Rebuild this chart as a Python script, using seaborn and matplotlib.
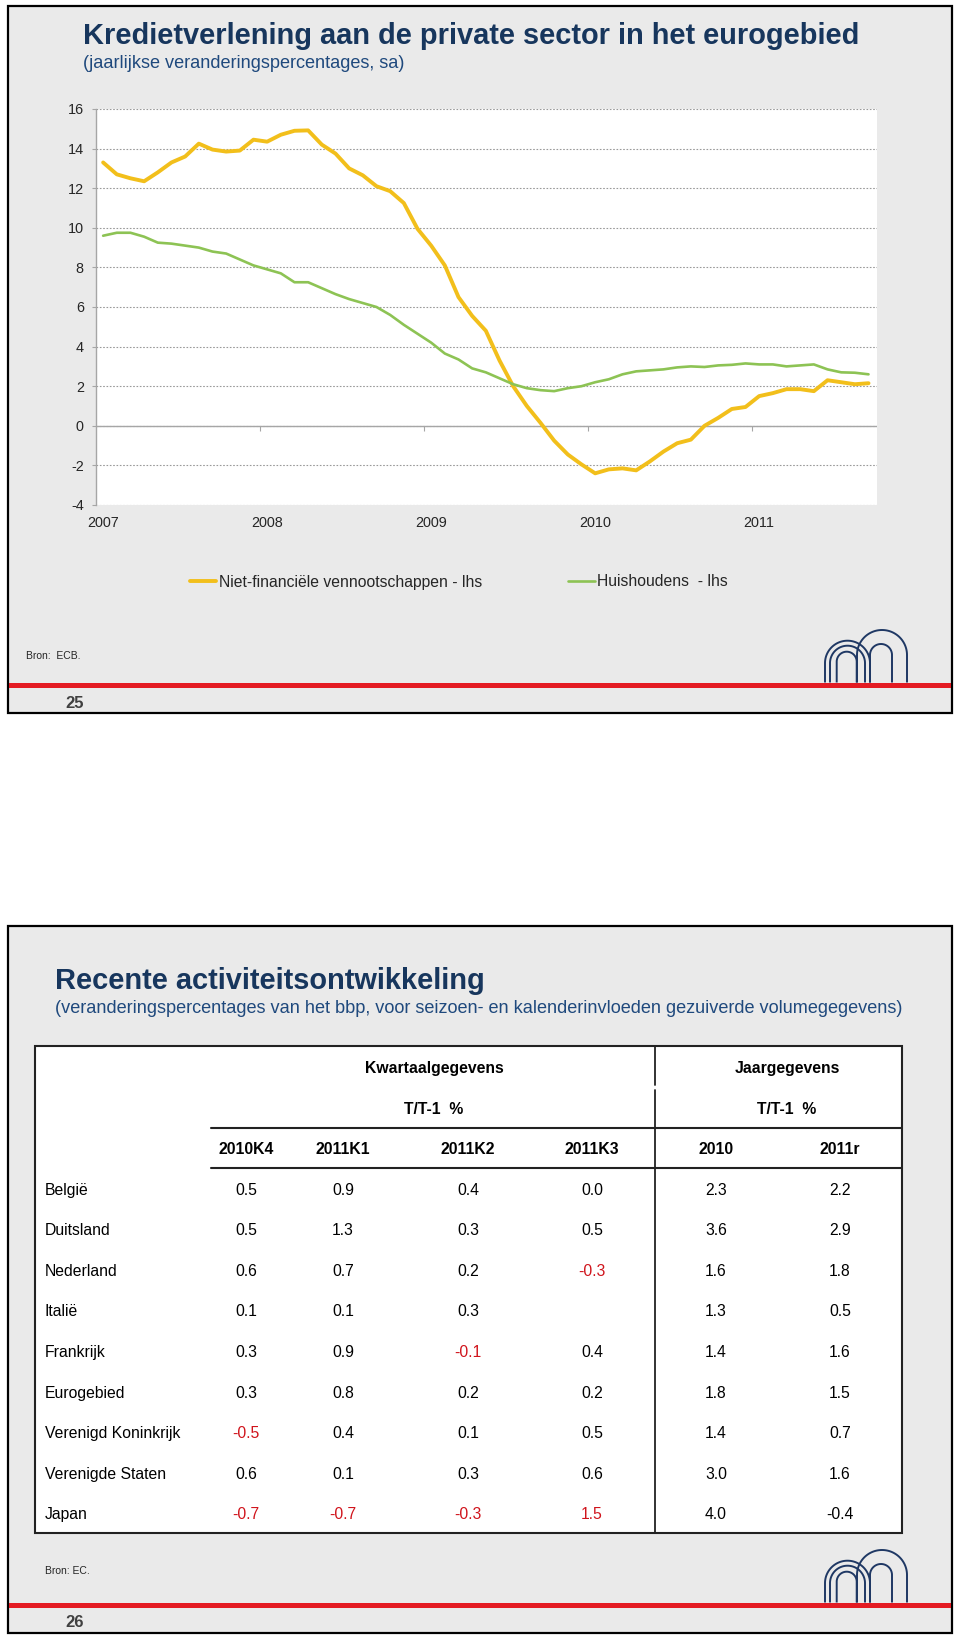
import numpy as np
import pandas as pd
import matplotlib
matplotlib.use("Agg")
import matplotlib.pyplot as plt
import seaborn as sns
from matplotlib.patches import Rectangle

# ---------------- data: slide 25 (line chart) ----------------
months = pd.period_range("2007-01", "2011-09", freq="M")
nfc_growth = [13.3, 12.7, 12.5, 12.35, 12.8, 13.3, 13.6, 14.25, 13.95, 13.85, 13.9, 14.45,
              14.35, 14.7, 14.9, 14.92, 14.2, 13.75, 13.0, 12.65, 12.1, 11.85, 11.25, 9.95,
              9.1, 8.1, 6.5, 5.55, 4.8, 3.3, 2.0, 1.0, 0.15, -0.75, -1.45, -1.95,
              -2.4, -2.2, -2.15, -2.25, -1.8, -1.3, -0.88, -0.7, 0.0, 0.4, 0.85, 0.95,
              1.5, 1.65, 1.85, 1.85, 1.75, 2.3, 2.2, 2.1, 2.15]
household_growth = [9.6, 9.75, 9.75, 9.55, 9.25, 9.2, 9.1, 9.0, 8.8, 8.7, 8.4, 8.1,
                    7.9, 7.7, 7.25, 7.25, 6.95, 6.65, 6.4, 6.2, 6.0, 5.6, 5.1, 4.65,
                    4.2, 3.65, 3.35, 2.9, 2.7, 2.4, 2.1, 1.9, 1.8, 1.75, 1.9, 2.0,
                    2.2, 2.35, 2.6, 2.75, 2.8, 2.85, 2.95, 3.0, 2.97, 3.05, 3.08, 3.15,
                    3.1, 3.1, 3.0, 3.05, 3.1, 2.85, 2.7, 2.68, 2.6]
series_labels = ["Niet-financiële vennootschappen - lhs", "Huishoudens  - lhs"]
series_colors = ["#F2BF1B", "#8DC354"]
year_labels = ["2007", "2008", "2009", "2010", "2011"]
y_ticks = [-4, -2, 0, 2, 4, 6, 8, 10, 12, 14, 16]

chart_title = "Kredietverlening aan de private sector in het eurogebied"
chart_subtitle = "(jaarlijkse veranderingspercentages, sa)"
chart_source = "Bron:  ECB."

# ---------------- data: slide 26 (table) ----------------
table_title = "Recente activiteitsontwikkeling"
table_subtitle = ("(veranderingspercentages van het bbp, voor seizoen- en kalenderinvloeden "
                  "gezuiverde volumegegevens)")
table_source = "Bron: EC."
group_headers = ["Kwartaalgegevens", "Jaargegevens"]
unit_header = "T/T-1  %"
column_headers = ["2010K4", "2011K1", "2011K2", "2011K3", "2010", "2011r"]
countries = ["België", "Duitsland", "Nederland", "Italië", "Frankrijk", "Eurogebied",
             "Verenigd Koninkrijk", "Verenigde Staten", "Japan"]
col_2010K4 = ["0.5", "0.5", "0.6", "0.1", "0.3", "0.3", "-0.5", "0.6", "-0.7"]
col_2011K1 = ["0.9", "1.3", "0.7", "0.1", "0.9", "0.8", "0.4", "0.1", "-0.7"]
col_2011K2 = ["0.4", "0.3", "0.2", "0.3", "-0.1", "0.2", "0.1", "0.3", "-0.3"]
col_2011K3 = ["0.0", "0.5", "-0.3", "", "0.4", "0.2", "0.5", "0.6", "1.5"]
col_2010 = ["2.3", "3.6", "1.6", "1.3", "1.4", "1.8", "1.4", "3.0", "4.0"]
col_2011r = ["2.2", "2.9", "1.8", "0.5", "1.6", "1.5", "0.7", "1.6", "-0.4"]
red_cells = [(2, 3), (4, 2), (6, 0), (8, 0), (8, 1), (8, 2), (8, 3)]

# ---------------- style ----------------
W, H = 960, 1635
sns.set_theme(style="white")
plt.rcParams["font.family"] = ["Liberation Sans", "DejaVu Sans"]

SLIDE_GRAY = "#EAEAEA"
NAVY = "#17365D"
SUBBLUE = "#1F497D"
TXT = "#262626"
AXGRAY = "#A6A6A6"
RED = "#D0141C"
LOGO = "#1F3864"
TITLE_FS = 20.9
SUB_FS = 13.1
TBL_FS = 11.3

fig = plt.figure(figsize=(W / 100, H / 100), dpi=100)
fig.patch.set_facecolor("white")

bg = fig.add_axes([0, 0, 1, 1], zorder=-10)
bg.set_xlim(0, W)
bg.set_ylim(H, 0)
bg.axis("off")


def arch(cx, r, top, bottom, fill=False):
    cy = top + r
    t = np.linspace(np.pi, 0, 80)
    xs = np.concatenate([[cx - r], cx + r * np.cos(t), [cx + r]])
    ys = np.concatenate([[bottom], cy - r * np.sin(t), [bottom]])
    if fill:
        bg.fill(xs, ys, color=SLIDE_GRAY, lw=0)
    bg.plot(xs, ys, color=LOGO, lw=1.4, solid_capstyle="butt")


def slide(top):
    bg.add_patch(Rectangle((7.5, top), 944, 707.5, facecolor=SLIDE_GRAY,
                           edgecolor="black", lw=1.6))
    b = top + 677
    # logo (stylised arches)
    arch(882, 25, top + 624.5, b, fill=True)
    arch(881, 11, top + 638.5, b)
    arch(847.5, 22.5, top + 635.2, b, fill=True)
    arch(847.5, 17.5, top + 640.2, b)
    arch(846.7, 10, top + 646.2, b)
    bg.add_patch(Rectangle((8.5, top + 677), 942, 5.5, facecolor="#E41B23",
                           edgecolor="none", zorder=5))


slide(5.5)
slide(925.5)

# ---------------- slide 25 texts ----------------
bg.text(83, 44, chart_title, fontsize=TITLE_FS, fontweight="bold", color=NAVY, va="baseline")
bg.text(83, 68, chart_subtitle, fontsize=SUB_FS, color=SUBBLUE, va="baseline")
bg.text(26.5, 656, chart_source, fontsize=7.5, color=TXT, va="center")
bg.text(75, 703, "25", fontsize=12, fontweight="bold", color="#404040", ha="center", va="center")

# ---------------- line chart ----------------
ax = fig.add_axes([96.3 / W, 1 - 505 / H, 780.7 / W, 396 / H])
ax.set_facecolor("white")
xpos = [(m.year - 2007) + 2007 + (m.month - 0.5) / 12 for m in months]
df = pd.DataFrame({
    "x": xpos + xpos,
    "waarde": nfc_growth + household_growth,
    "reeks": [series_labels[0]] * len(xpos) + [series_labels[1]] * len(xpos),
})
sns.lineplot(data=df, x="x", y="waarde", hue="reeks", size="reeks",
             palette=dict(zip(series_labels, series_colors)),
             sizes={series_labels[0]: 2.8, series_labels[1]: 1.9},
             estimator=None, legend=False, ax=ax)
handles = list(ax.get_lines()[:2])

ax.set_xlim(2007, 2007 + 57.12 / 12)
ax.set_ylim(-4, 16)
ax.set_yticks(y_ticks)
ax.set_yticklabels([str(v) for v in y_ticks])
ax.set_xticks([int(y) + 0.5 / 12 for y in year_labels])
ax.set_xticklabels(year_labels)
ax.set_xlabel("")
ax.set_ylabel("")
ax.tick_params(axis="x", length=0, pad=8, labelsize=10.4, labelcolor=TXT)
ax.tick_params(axis="y", left=True, length=3, width=0.8, color=AXGRAY, direction="out",
               pad=6, labelsize=10.4, labelcolor=TXT)
for s in ["top", "right", "bottom"]:
    ax.spines[s].set_visible(False)
ax.spines["left"].set_color(AXGRAY)
ax.spines["left"].set_linewidth(1.0)
ax.grid(axis="y", color="#9A9A9A", lw=0.8, ls=(0, (1.5, 1.5)))
ax.grid(axis="x", visible=False)
ax.set_axisbelow(True)
ax.axhline(0, color=AXGRAY, lw=1.0, zorder=1)

sec = ax.secondary_xaxis(0.2)
sec.set_xticks([2008, 2009, 2010, 2011])
sec.set_xticklabels([])
sec.tick_params(axis="x", direction="out", length=3.5, width=0.8, color=AXGRAY)
for s in sec.spines.values():
    s.set_visible(False)

fig.legend(handles, series_labels, loc="center left",
           bbox_to_anchor=(189.5 / W, 1 - 582 / H), bbox_transform=fig.transFigure,
           ncol=2, frameon=False, fontsize=11.3, handlelength=1.7, handletextpad=0.15,
           columnspacing=5.5, borderpad=0, borderaxespad=0, labelcolor=TXT)

# ---------------- slide 26: table ----------------
bg.text(55, 989, table_title, fontsize=TITLE_FS, fontweight="bold", color=NAVY, va="baseline")
bg.text(55, 1013, table_subtitle, fontsize=SUB_FS, color=SUBBLUE, va="baseline")
bg.text(45, 1570.7, table_source, fontsize=7.5, color=TXT, va="center")
bg.text(75, 1622.7, "26", fontsize=12, fontweight="bold", color="#404040", ha="center", va="center")

tbl_left, tbl_right, tbl_top, tbl_bottom = 35, 902, 1046, 1533.3
bg.add_patch(Rectangle((tbl_left, tbl_top), tbl_right - tbl_left, tbl_bottom - tbl_top,
                       facecolor="white", edgecolor="#222222", lw=1.5))
divider_x = 654.5
bg.plot([divider_x, divider_x], [tbl_top, 1085], color="#222222", lw=1.3)
bg.plot([divider_x, divider_x], [1090, tbl_bottom], color="#222222", lw=1.3)
bg.plot([211, tbl_right], [1128.3, 1128.3], color="#222222", lw=1.5)
bg.plot([211, tbl_right], [1168.3, 1168.3], color="#222222", lw=1.5)

group_x = [434, 787]
for gx, gh in zip(group_x, group_headers):
    bg.text(gx, 1068, gh, fontsize=TBL_FS, fontweight="bold", color="black", ha="center", va="center")
    bg.text(gx, 1109, unit_header, fontsize=TBL_FS, fontweight="bold", color="black", ha="center", va="center")

col_x = [246, 343, 468, 592, 716, 840]
for cx, ch in zip(col_x, column_headers):
    bg.text(cx, 1149.3, ch, fontsize=TBL_FS, fontweight="bold", color="black", ha="center", va="center")

columns = [col_2010K4, col_2011K1, col_2011K2, col_2011K3, col_2010, col_2011r]
row_y0, row_dy = 1190, 40.6
for i, name in enumerate(countries):
    y = row_y0 + i * row_dy
    bg.text(45, y, name, fontsize=TBL_FS, color="black", ha="left", va="center")
    for j, col in enumerate(columns):
        c = RED if (i, j) in red_cells else "black"
        bg.text(col_x[j], y, col[i], fontsize=TBL_FS, color=c, ha="center", va="center")

fig.savefig("out.png", dpi=100)
